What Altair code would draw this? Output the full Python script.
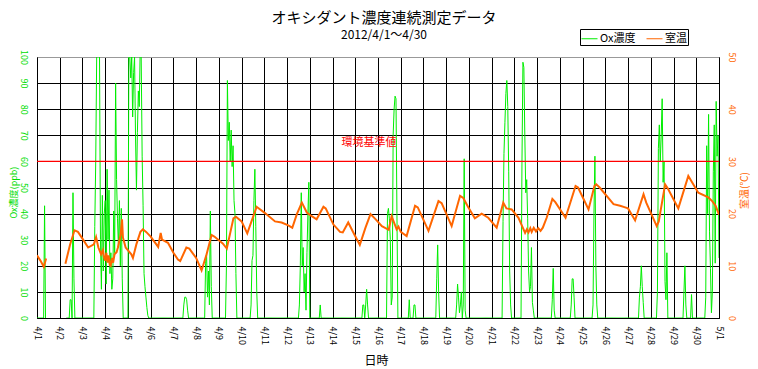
import altair as alt
import pandas as pd

FONT = "Noto Sans CJK JP"
N = None

title_text = "オキシダント濃度連続測定データ"
subtitle_text = "2012/4/1～4/30"
series_names = ["Ox濃度", "室温"]
series_colors = ["#00ee00", "#ff6600"]
tick_labels = ["4/1", "4/2", "4/3", "4/4", "4/5", "4/6", "4/7", "4/8", "4/9", "4/10",
               "4/11", "4/12", "4/13", "4/14", "4/15", "4/16", "4/17", "4/18", "4/19", "4/20",
               "4/21", "4/22", "4/23", "4/24", "4/25", "4/26", "4/27", "4/28", "4/29", "4/30", "5/1"]
ox_ticks = [0, 10, 20, 30, 40, 50, 60, 70, 80, 90, 100]
temp_ticks = [0, 10, 20, 30, 40, 50]
threshold_value = 60
threshold_label = "環境基準値"
threshold_label_day = 14.6
threshold_label_value = 67

# Ox concentration (ppb), hourly values per day (hours 0..23); None = missing
ox_0401 = [0, 0, 0, 0, 0, 0, 0, 0, 43, 0, N, N, N, N, N, N, N, N, N, N, N, N, N, N]
ox_0402 = [N, N, N, N, N, N, N, 0, 0, 0, 0, 7, 7, 0, 48, 15, 0, 0, 0, 0, 0, 0, 0, 0]
ox_0403 = [0, 0, 0, 0, 0, 0, 0, 0, 0, 0, 0, 0, 0, 35, 60, 100, 108, 104, 100, 30, 11, 47, 18, 40]
ox_0404 = [45, 13, 57, 30, 49, 17, 25, 11, 15, 41, 25, 90, 53, 38, 27, 45, 20, 42, 15, 0, 0, 0, 0, 0]
ox_0405 = [0, 105, 100, 92, 100, 77, 94, 100, 70, 49, 71, 87, 81, 105, 100, 62, 43, 17, 12, 8, 4, 1, 0, 0]
ox_0406 = [0, 0, 0, 0, 0, 0, 0, 0, 0, 0, 0, 0, 0, 0, 0, 0, 0, 0, 0, 0, 0, 0, 0, 0]
ox_0407 = [0, 0, 0, 0, 0, 0, 0, 0, 0, 0, 0, 5, 8, 8, 7, 3, 0, 0, 0, 0, 0, 0, 0, 0]
ox_0408 = [0, 0, 0, 0, 0, 0, 0, 0, 0, 0, 21, 25, 8, 18, 5, 41, 12, 0, 0, 0, 0, 0, 0, 0]
ox_0409 = [0, 0, 0, 0, 0, 0, 0, 0, 20, 91, 68, 75, 60, 72, 58, 66, 45, 40, 17, 0, 0, 0, 0, 0]
ox_0410 = [0, 0, 0, 0, 0, 0, 0, 0, 0, 0, 5, 22, 24, 45, 57, 35, 10, 0, 0, 0, 0, 0, 0, 0]
ox_0411 = [0, 0, 0, 0, 0, 0, 0, 0, 0, 0, 0, 0, 0, 0, 0, 0, 0, 0, 0, 0, 0, 0, 0, 0]
ox_0412 = [0, 0, 0, 0, 0, 0, 0, 0, 0, 0, 0, 0, 0, 5, 20, 48, 20, 27, 10, 17, 3, 25, 40, 52]
ox_0413 = [0, 0, 0, 0, 0, 0, 0, 0, 0, 0, 0, 5, 0, 0, 0, 0, 0, 0, 0, 0, 0, 0, 0, 0]
ox_0414 = [0, 0, 0, 0, 0, 0, 0, 0, 0, 0, 0, 0, 0, 0, 0, 0, 0, 0, 0, 0, 0, 0, 0, 0]
ox_0415 = [0, 0, 0, 0, 0, 0, 0, 0, 5, 5, 0, 5, 11, 5, 0, 0, 0, 0, 0, 0, 0, 0, 0, 0]
ox_0416 = [0, 0, 0, 0, 0, 0, 0, 0, 0, 0, 40, 42, 38, 30, 5, 8, 70, 80, 85, 84, 40, 0, 0, 0]
ox_0417 = [0, 0, 0, 0, 0, 0, 0, 0, 0, 7, 0, 0, 0, 0, 5, 5, 0, 0, 0, 0, 0, 0, 0, 0]
ox_0418 = [0, 0, 0, 0, 0, 0, 0, 0, 0, 0, 0, 0, 0, 0, 15, 28, 10, 0, 0, 0, 0, 0, 0, 0]
ox_0419 = [0, 0, 0, 0, 0, 0, 0, 0, 0, 0, 0, 5, 13, 8, 2, 5, 10, 0, 5, 61, 3, 0, 0, 0]
ox_0420 = [0, 0, 0, 0, 0, 0, 0, 0, 0, 0, 0, 0, 0, 0, 0, 0, 0, 0, 0, 0, 0, 0, 0, 0]
ox_0421 = [0, 0, 0, 0, 0, 0, 0, 0, 0, 0, 0, 0, 37, 63, 75, 86, 91, 81, 56, 18, 5, 0, 0, 0]
ox_0422 = [0, 0, 0, 0, 0, 0, 0, 0, 60, 98, 96, 70, 48, 53, 38, 18, 10, 12, 27, 6, 3, 0, 0, 0]
ox_0423 = [0, 0, 0, 0, 0, 0, 0, 0, 0, 0, 0, 0, 0, 0, 0, 0, 7, 19, 3, 0, 0, 0, 0, 0]
ox_0424 = [0, 0, 0, 0, 0, 0, 0, 0, 0, 0, 0, 0, 5, 15, 15, 8, 0, 0, 0, 0, 0, 0, 0, 0]
ox_0425 = [0, 0, 0, 0, 0, 0, 0, 0, 0, 0, 0, 5, 40, 62, 20, 5, 0, 0, 0, 0, 0, 0, 0, 0]
ox_0426 = [0, 0, 0, 0, 0, 0, 0, 0, 0, 0, 0, 0, 0, 0, 0, 0, 0, 0, 0, 0, 0, 0, 0, 0]
ox_0427 = [0, 0, 0, 0, 0, 0, 0, 0, 0, 0, 0, 0, 8, 12, 20, 12, 6, 0, 0, 0, 0, 0, 0, 0]
ox_0428 = [0, 0, 0, 0, 0, 0, 0, 10, 65, 74, 60, 70, 84, 52, 60, 14, 7, 25, 0, 0, 0, 0, 0, 0]
ox_0429 = [0, 0, 0, 0, 0, 0, 0, 0, 0, 0, 0, 10, 20, 5, 0, 0, 0, 0, 0, 9, 0, 0, 0, 0]
ox_0430 = [0, 0, 0, 0, 0, 0, 0, 0, 0, 0, 8, 66, 40, 78, 33, 19, 2, 10, 56, 74, 21, 83, 62, 70]
ox_0501 = [23]

ox_days = [ox_0401, ox_0402, ox_0403, ox_0404, ox_0405, ox_0406, ox_0407, ox_0408, ox_0409, ox_0410,
           ox_0411, ox_0412, ox_0413, ox_0414, ox_0415, ox_0416, ox_0417, ox_0418, ox_0419, ox_0420,
           ox_0421, ox_0422, ox_0423, ox_0424, ox_0425, ox_0426, ox_0427, ox_0428, ox_0429, ox_0430,
           ox_0501]

# Room temperature (deg C): time in days since 4/1 00:00, None = missing
temp_day = [0.0, 0.15, 0.3, 0.4, 0.8,
            1.25, 1.45, 1.65, 1.8, 2.0, 2.25, 2.5, 2.6, 2.7, 2.82, 2.9, 2.95, 3.0, 3.05, 3.1, 3.15,
            3.2, 3.24, 3.3, 3.35, 3.41, 3.5, 3.56, 3.68, 3.74, 3.78, 3.9, 4.15, 4.22, 4.37, 4.55,
            4.66, 4.8, 5.0, 5.25, 5.33, 5.44, 5.5, 5.76, 6.0, 6.2, 6.3, 6.57, 6.7, 7.0, 7.24, 7.46,
            7.68, 7.8, 8.17, 8.35, 8.64, 8.75, 9.0, 9.25, 9.66, 10.03, 10.47, 10.76, 11.03, 11.23,
            11.43, 11.65, 11.87, 12.05, 12.3, 12.6, 12.7, 13.04, 13.33, 13.45, 13.69, 13.96, 14.2,
            14.45, 14.67, 14.9, 15.17, 15.47, 15.6, 15.82, 15.9, 16.0, 16.26, 16.63, 16.75, 17.22,
            17.66, 17.8, 18.24, 18.61, 18.75, 18.97, 19.26, 19.56, 19.85, 20.22, 20.51, 20.65,
            20.88, 21.18, 21.47, 21.55, 21.62, 21.7, 21.76, 21.85, 21.95, 22.05, 22.15, 22.25,
            22.42, 22.67, 22.8, 23.25, 23.69, 23.8, 24.26, 24.52, 24.6, 24.75, 25.36, 25.65,
            25.87, 26.0, 26.31, 26.68, 26.8, 27.26, 27.35, 27.63, 27.75, 28.21, 28.65, 29.09,
            29.53, 29.7, 29.85, 30.0]
temp_c = [12.0, 11.0, 9.8, 11.4, N,
          10.4, 14.0, 16.8, 16.5, 15.2, 13.5, 14.1, 15.5, 13.5, 12.2, 13.0, 11.6, 11.0, 12.5, 10.6, 12.0,
          10.2, 10.0, 11.5, 10.6, 12.2, 12.6, 13.5, 16.0, 18.9, 15.4, 13.5, 12.2, 11.5, 14.1, 16.5,
          17.0, 16.5, 15.6, 14.1, 13.6, 16.3, 15.0, 14.4, 12.5, 11.2, 10.9, 13.5, 13.3, 11.5, 9.1, 12.2,
          15.9, 15.6, 14.3, 13.3, 19.1, 19.4, 18.5, 16.2, 21.3, 20.1, 18.5, 18.3, 17.8, 17.3,
          19.9, 22.1, 20.2, 19.6, 18.9, 21.3, 21.0, 17.9, 16.5, 16.4, 18.3, 16.0, 14.0,
          17.3, 19.9, 18.9, 17.6, 16.9, 19.5, 17.0, 17.5, 16.5, 15.7, 21.5, 21.2, 16.7,
          22.4, 22.0, 17.6, 23.4, 23.0, 21.2, 19.1, 20.0, 19.2, 17.3, 22.1, 21.0,
          20.8, 19.2, 16.3, 17.0, 16.4, 17.2, 16.5, 17.3, 16.6, 17.2, 16.7, 17.3,
          19.2, 22.8, 22.2, 19.2, 25.3, 25.0, 20.8, 25.3, 25.6, 25.0, 21.8, 21.5,
          21.2, 21.0, 18.7, 23.7, 22.1, 17.6, 18.5, 25.6, 24.8, 21.0, 27.2, 24.0,
          23.1, 22.4, 21.5, 19.8]


def ox_table():
    rows, seg, gap = [], 0, False
    for d, arr in enumerate(ox_days):
        for h, v in enumerate(arr):
            if v is None:
                if not gap:
                    seg += 1
                gap = True
                continue
            gap = False
            rows.append({"t": d + h / 24.0, "v": v, "seg": seg, "series": series_names[0]})
    return pd.DataFrame(rows)


def temp_table():
    rows, seg, gap = [], 0, False
    for t, v in zip(temp_day, temp_c):
        if v is None:
            if not gap:
                seg += 1
            gap = True
            continue
        gap = False
        rows.append({"t": t, "v": v, "seg": seg, "series": series_names[1]})
    return pd.DataFrame(rows)


ox_df = ox_table()
temp_df = temp_table()
rule_df = pd.DataFrame({"v": [threshold_value]})
label_df = pd.DataFrame({"t": [threshold_label_day], "v": [threshold_label_value], "label": [threshold_label]})

label_expr = "[" + ",".join("'" + s + "'" for s in tick_labels) + "][datum.value]"

x_scale = alt.Scale(domain=[0, 30], nice=False, zero=False)
x_axis = alt.Axis(
    values=list(range(len(tick_labels))), labelExpr=label_expr,
    grid=True, gridColor="black", gridWidth=1, gridOpacity=1,
    domainColor="black", domainWidth=1, ticks=False, tickSize=0,
    labelAngle=90, labelAlign="left", labelBaseline="middle", labelPadding=8,
    labelFont=FONT, labelFontSize=9, labelColor="black", labelFlush=False, labelOverlap=False,
    title="日時", titleFont=FONT, titleFontSize=12, titleFontWeight="normal", titleColor="black",
    titleX=339, titleY=37, titleAlign="center", titleBaseline="top",
)
x_enc = alt.X("t:Q", scale=x_scale, axis=x_axis)

ox_scale = alt.Scale(domain=[0, 100], nice=False, zero=True)
ox_axis = alt.Axis(
    values=ox_ticks, grid=True,
    gridColor={"condition": {"test": "datum.value === 100", "value": "#999999"}, "value": "black"},
    gridWidth=1, gridOpacity=1,
    domainColor="black", ticks=False, tickSize=0,
    labelAngle=90, labelAlign="center", labelBaseline="top", labelPadding=10,
    labelFont=FONT, labelFontSize=9, labelColor="#00dd00", labelFlush=False, labelOverlap=False,
    title="Ox濃度(ppb)", titleFont=FONT, titleFontSize=9, titleFontWeight="normal", titleColor="#00dd00",
    titleAngle=270, titleX=-24, titleY=135, titleAlign="center", titleBaseline="middle",
)
temp_scale = alt.Scale(domain=[0, 50], nice=False, zero=True)
temp_axis = alt.Axis(
    values=temp_ticks, grid=False, domainColor="black", ticks=False, tickSize=0, orient="right",
    labelAngle=90, labelAlign="center", labelBaseline="bottom", labelPadding=7,
    labelFont=FONT, labelFontSize=9, labelColor="#ff6600", labelFlush=False, labelOverlap=False,
    title="室温(℃)", titleFont=FONT, titleFontSize=10, titleFontWeight="normal", titleColor="#ff6600",
    titleAngle=270, titleX=25, titleY=133, titleAlign="center", titleBaseline="middle",
)

color_enc = alt.Color(
    "series:N",
    scale=alt.Scale(domain=series_names, range=series_colors),
    legend=alt.Legend(
        orient="none", legendX=543, legendY=-28, direction="horizontal", title=None,
        strokeColor="black", fillColor="white", padding=1,
        symbolType="stroke", symbolSize=256, symbolStrokeWidth=1,
        labelFont=FONT, labelFontSize=11, labelColor="black", labelOffset=2, columnPadding=8,
    ),
)

ox_line = alt.Chart(ox_df).mark_line(strokeWidth=1, clip=True).encode(
    x=x_enc,
    y=alt.Y("v:Q", scale=ox_scale, axis=ox_axis),
    color=color_enc,
    detail="seg:N",
    order="t:Q",
)

rule = alt.Chart(rule_df).mark_rule(color="#ff0000", strokeWidth=1.2).encode(
    y=alt.Y("v:Q", scale=ox_scale, axis=ox_axis),
)

label = alt.Chart(label_df).mark_text(color="#ff0000", font=FONT, fontSize=11).encode(
    x=x_enc,
    y=alt.Y("v:Q", scale=ox_scale, axis=ox_axis),
    text="label:N",
)

left = alt.layer(ox_line, rule, label)

temp_line = alt.Chart(temp_df).mark_line(strokeWidth=2, clip=True).encode(
    x=x_enc,
    y=alt.Y("v:Q", scale=temp_scale, axis=temp_axis),
    color=color_enc,
    detail="seg:N",
    order="t:Q",
)

chart = alt.layer(left, temp_line).resolve_scale(y="independent").properties(
    width=682,
    height=261,
    title=alt.TitleParams(
        text=title_text, subtitle=subtitle_text, font=FONT, subtitleFont=FONT,
        fontSize=15, subtitleFontSize=12, fontWeight="normal", color="black", subtitleColor="black",
        anchor="middle", dx=6, offset=-12, subtitlePadding=4,
    ),
    padding={"left": 29, "top": 49, "right": 31, "bottom": 50},
    autosize=alt.AutoSizeParams(type="none"),
).configure_view(stroke="#999999", strokeWidth=1)

chart.save("out.html", embed_options={"renderer": "svg", "actions": False})
